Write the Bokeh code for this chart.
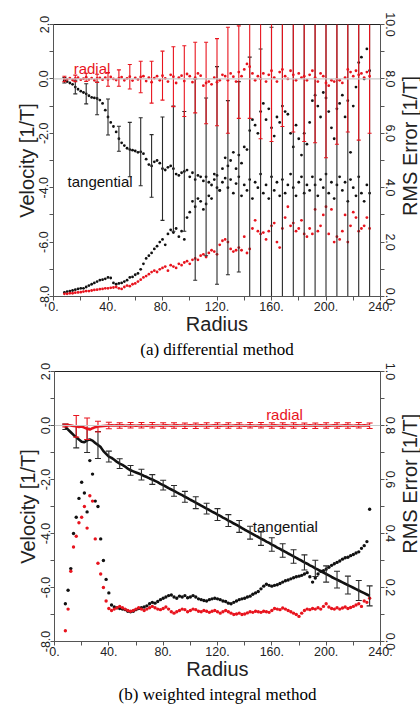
import math
from bokeh.plotting import figure
from bokeh.models import Range1d, LinearAxis, FixedTicker, Span, Label, Title
from bokeh.layouts import column, row
from bokeh.embed import file_html
from bokeh.resources import INLINE

# ---------------- data ----------------
radius = list(range(8, 233, 2))
bar_radius = list(range(8, 233, 8))

x_ticks = [0, 40, 80, 120, 160, 200, 240]
x_minor = [20, 60, 100, 140, 180, 220]
x_labels = ["0.", "40.", "80.", "120.", "160.", "200.", "240."]
v_ticks = [-8, -6, -4, -2, 0, 2]
v_minor = [-7, -5, -3, -1, 1]
v_labels = ["-8.0", "-6.0", "-4.0", "-2.0", "0.0", "2.0"]
rms_a_ticks = [0, 2, 4, 6, 8, 10]
rms_a_minor = [1, 3, 5, 7, 9]
rms_a_labels = ["0.0", "2.0", "4.0", "6.0", "8.0", "10.0"]
rms_b_ticks = [0, 0.2, 0.4, 0.6, 0.8, 1.0]
rms_b_minor = [0.1, 0.3, 0.5, 0.7, 0.9]
rms_b_labels = ["0.0", "0.2", "0.4", "0.6", "0.8", "1.0"]

# panel (a) differential method
a_radial_vel = [
    0.0, -0.02, 0.03, -0.04, 0.02, 0.05, -0.03, 0.01, 0.06, -0.02,
    0.03, -0.05, 0.02, 0.04, -0.03, 0.05, -0.02, 0.07, 0.0, -0.04,
    0.03, 0.06, -0.05, 0.02, 0.08, -0.06, 0.04, -0.02, 0.07, 0.1,
    -0.08, 0.05, -0.12, 0.03, 0.1, -0.05, 0.12, 0.02, -0.1, 0.15,
    0.08, -0.15, 0.05, 0.12, -0.08, 0.18, 0.1, -0.12, 0.05, 0.2,
    0.12, -0.25, -0.15, -0.1, -0.2, 0.05, -0.12, -0.05, 0.15, 0.1,
    -0.05, 0.2, 0.08, -0.1, 0.25, 0.1, 0.35, 0.55, 0.45, 0.2,
    -0.05, 0.1, 0.0, 0.2, -0.1, 0.15, 0.3, 0.05, -0.1, 0.25,
    0.35, 0.1, 0.0, 0.3, 0.15, -0.05, 0.2, 0.05, 0.1, -0.05,
    0.15, 0.3, 0.05, -0.1, 0.2, 0.1, -0.15, -0.25, -0.05, -0.1,
    0.0, -0.05, -0.15, 0.05, 0.35, 0.25, 0.1, 0.3, 0.15, 0.2,
    0.05, 0.25, 0.1]
a_radial_rms = [
    0.1, 0.1, 0.12, 0.12, 0.14, 0.15, 0.16, 0.18, 0.2, 0.2,
    0.22, 0.24, 0.25, 0.27, 0.28, 0.3, 0.3, 0.32, 0.33, 0.35,
    0.3, 0.28, 0.35, 0.4, 0.38, 0.45, 0.48, 0.55, 0.62, 0.7,
    0.75, 0.82, 0.9, 0.95, 0.9, 1.0, 1.05, 1.1, 0.95, 1.15,
    1.1, 1.05, 1.2, 1.15, 1.25, 1.3, 1.2, 1.35, 1.4, 1.35,
    1.5, 1.55, 1.45, 1.6, 1.7, 1.65, 1.55, 1.9, 2.05, 2.1,
    2.0, 1.75, 1.65, 1.7, 1.8, 1.7, 2.2, 1.6, 1.75, 2.5,
    2.8, 2.4, 2.3, 2.35, 2.1, 2.4, 2.6, 2.7, 2.0, 1.8,
    2.5, 2.9, 3.3, 2.6, 2.7, 2.4, 2.5, 2.8, 2.3, 2.2,
    2.5, 2.3, 3.2, 2.4, 2.6, 3.0, 3.3, 2.3, 3.2, 2.0,
    2.2, 2.1, 2.4, 3.0, 2.0, 2.6, 3.1, 2.9, 2.4, 2.5,
    2.6, 2.9, 2.5]
a_tangential_vel = [
    -0.05, -0.1, -0.15, -0.2, -0.3, -0.38, -0.45, -0.5, -0.55, -0.62,
    -0.68, -0.7, -0.72, -0.78, -0.9, -1.15, -1.4, -1.6, -1.75, -1.95,
    -2.2, -2.35, -2.45, -2.55, -2.6, -2.62, -2.65, -2.7, -2.68, -2.75,
    -2.95, -3.15, -3.2, -3.05, -3.0, -3.1, -3.3, -3.35, -3.25, -3.2,
    -3.3, -3.5, -3.55, -3.45, -3.4, -3.35, -3.6, -3.45, -3.7, -3.55,
    -3.6, -3.75, -3.6, -3.8, -3.9, -3.7, -3.55, -4.1, -3.8, -3.65,
    -4.0, -3.7, -4.2, -3.85, -3.6, -4.3, -3.9, -4.1, -3.7, -4.4,
    -3.8, -4.0, -3.5, -4.2, -3.9, -4.4, -3.6, -4.1, -3.8, -4.3,
    -3.7, -4.2, -3.9, -3.5, -4.0, -4.3, -3.8, -3.6, -4.2, -3.9,
    -4.1, -3.6, -3.9, -4.3, -3.7, -4.0, -3.5, -4.2, -3.8, -4.4,
    -3.9, -3.6, -4.1, -3.8, -4.5, -3.7, -4.0, -4.3, -3.6, -4.2,
    -4.5, -3.9, -4.2]
a_tangential_rms = [
    0.15, 0.18, 0.2, 0.22, 0.25, 0.28, 0.3, 0.3, 0.35, 0.4,
    0.45, 0.5, 0.55, 0.6, 0.62, 0.65, 0.7, 0.68, 0.5, 0.45,
    0.48, 0.5, 0.55, 0.6, 0.7, 0.72, 0.8, 0.85, 1.0, 1.2,
    1.4, 1.5, 1.6, 1.75, 1.85, 2.0, 2.1, 1.9, 2.3, 2.45,
    2.35, 2.5, 2.2, 2.4, 2.1, 2.9, 3.1, 3.5, 3.3, 3.6,
    3.5, 3.2, 3.4, 3.7, 3.6, 4.5, 4.0, 3.9, 4.7, 5.1,
    4.8, 5.0, 5.3, 4.7, 5.2, 4.9, 5.5, 5.4, 6.1, 6.5,
    6.3, 6.0, 6.8, 7.1, 6.5, 6.9, 6.2, 5.9, 6.6, 6.4,
    7.0, 6.8, 6.7, 6.0, 5.5, 6.3, 5.8, 5.2, 6.0, 5.6,
    6.4, 7.2, 7.4, 7.0, 6.6, 7.5, 7.3, 6.8, 6.2, 5.8,
    6.9, 7.1, 7.4, 6.6, 7.2, 5.3, 7.0, 7.7, 8.6, 8.8,
    8.0, 9.1, 8.3]
a_radial_err = [0.1, 0.12, 0.15, 0.15, 0.25, 0.3, 0.45, 0.58, 0.77, 0.9,
                1.1, 1.3, 1.3, 1.5, 1.6, 1.95, 1.7, 1.9, 2.2, 2.6,
                2.1, 2.1, 2.4, 2.4, 2.75, 2.4, 2.3, 2.4, 2.1]
a_tangential_err = [0.1, 0.25, 0.37, 0.6, 0.66, 0.46, 1.0, 1.25, 1.15, 1.9,
                    2.3, 2.2, 3.7, 2.9, 4.0, 3.2, 3.5, 4.5, 4.6, 5.5,
                    6.0, 6.5, 7.0, 7.0, 7.5, 7.5, 8.0, 8.0, 8.0]

# panel (b) weighted integral method
b_radial_vel = [
    0.0, 0.02, 0.0, -0.02, -0.03, -0.05, -0.04, -0.08, -0.12, -0.15,
    -0.1, -0.06, -0.04, -0.03, -0.02, -0.01, 0.0, 0.01, 0.0, 0.01,
    0.0, 0.01, -0.01, 0.0, 0.01, 0.0, -0.01, 0.0, 0.01, 0.0,
    -0.01, 0.0, 0.01, 0.0, 0.0, -0.01, 0.0, 0.01, 0.0, -0.01,
    0.0, 0.01, 0.0, 0.0, -0.01, 0.0, 0.01, 0.0, -0.01, 0.0,
    0.01, 0.0, 0.0, -0.01, 0.0, 0.01, 0.0, -0.01, 0.0, 0.01,
    0.0, -0.01, 0.0, 0.01, 0.0, 0.0, -0.01, 0.0, 0.01, 0.0,
    -0.01, 0.0, 0.01, 0.0, 0.0, -0.01, 0.0, 0.01, 0.0, -0.01,
    0.0, 0.01, 0.0, -0.01, 0.0, 0.01, 0.0, 0.0, -0.01, 0.0,
    0.01, 0.0, -0.01, 0.0, 0.01, 0.0, 0.0, -0.01, 0.0, 0.01,
    0.0, -0.01, 0.0, 0.01, 0.0, 0.0, -0.01, 0.0, 0.01, 0.0,
    0.01, 0.0, -0.01]
b_tangential_vel = [
    -0.05, -0.15, -0.25, -0.35, -0.43, -0.52, -0.6, -0.62, -0.55, -0.52,
    -0.56, -0.65, -0.72, -0.8, -0.95, -1.05, -1.15, -1.2, -1.27, -1.35,
    -1.41, -1.46, -1.52, -1.6, -1.66, -1.7, -1.74, -1.78, -1.82, -1.87,
    -1.91, -1.96, -2.0, -2.05, -2.1, -2.16, -2.21, -2.26, -2.32, -2.37,
    -2.42, -2.48, -2.53, -2.58, -2.64, -2.69, -2.75, -2.8, -2.86, -2.91,
    -2.97, -3.02, -3.08, -3.13, -3.19, -3.24, -3.3, -3.35, -3.41, -3.46,
    -3.52, -3.57, -3.63, -3.68, -3.74, -3.8, -3.86, -3.91, -3.97, -4.02,
    -4.08, -4.13, -4.19, -4.24, -4.3, -4.35, -4.41, -4.46, -4.52, -4.57,
    -4.63, -4.68, -4.74, -4.79, -4.85, -4.9, -4.96, -5.01, -5.07, -5.12,
    -5.18, -5.23, -5.29, -5.34, -5.4, -5.45, -5.5, -5.55, -5.61, -5.66,
    -5.71, -5.76, -5.81, -5.86, -5.91, -5.96, -6.01, -6.06, -6.11, -6.16,
    -6.21, -6.26, -6.31]
b_radial_rms = [
    0.04, 0.12, 0.26, 0.35, 0.39, 0.44, 0.46, 0.5, 0.42, 0.54,
    0.52, 0.38, 0.29, 0.25, 0.2, 0.15, 0.122, 0.115, 0.12, 0.125,
    0.13, 0.125, 0.12, 0.115, 0.112, 0.115, 0.12, 0.125, 0.12, 0.115,
    0.12, 0.125, 0.13, 0.125, 0.12, 0.118, 0.122, 0.128, 0.12, 0.11,
    0.105, 0.11, 0.115, 0.12, 0.118, 0.11, 0.115, 0.12, 0.118, 0.112,
    0.11, 0.115, 0.112, 0.108, 0.112, 0.115, 0.11, 0.105, 0.11, 0.115,
    0.11, 0.105, 0.1, 0.102, 0.105, 0.1, 0.102, 0.106, 0.11, 0.108,
    0.112, 0.11, 0.108, 0.112, 0.11, 0.108, 0.115, 0.122, 0.12, 0.118,
    0.124, 0.12, 0.115, 0.11, 0.105, 0.1, 0.093, 0.105, 0.115, 0.12,
    0.118, 0.122, 0.12, 0.125, 0.12, 0.13, 0.14, 0.128, 0.122, 0.12,
    0.125, 0.12, 0.124, 0.128, 0.122, 0.126, 0.13, 0.135, 0.14, 0.13,
    0.15, 0.145, 0.16]
b_tangential_rms = [
    0.14, 0.19, 0.27, 0.4, 0.46, 0.53, 0.59, 0.55, 0.48, 0.67,
    0.62, 0.52, 0.5, 0.38, 0.3, 0.23, 0.18, 0.135, 0.128, 0.125,
    0.122, 0.12, 0.118, 0.112, 0.11, 0.112, 0.118, 0.122, 0.125, 0.128,
    0.132, 0.14, 0.145, 0.142, 0.148, 0.155, 0.16, 0.165, 0.17, 0.172,
    0.165, 0.16, 0.168, 0.165, 0.17, 0.162, 0.165, 0.17, 0.165, 0.158,
    0.155, 0.152, 0.15, 0.155, 0.158, 0.16, 0.158, 0.155, 0.15, 0.148,
    0.142, 0.14, 0.145, 0.15, 0.155, 0.158, 0.16, 0.165, 0.168, 0.175,
    0.18, 0.185, 0.195, 0.205, 0.212, 0.208, 0.205, 0.208, 0.21, 0.215,
    0.22, 0.225, 0.228, 0.232, 0.236, 0.24, 0.242, 0.245, 0.25, 0.255,
    0.24, 0.22, 0.235, 0.25, 0.26, 0.262, 0.268, 0.275, 0.282, 0.288,
    0.293, 0.298, 0.305, 0.31, 0.312, 0.318, 0.322, 0.328, 0.332, 0.345,
    0.355, 0.37, 0.49]
b_radial_err = [0.05, 0.4, 0.4, 0.2, 0.12, 0.1, 0.1, 0.1, 0.1, 0.1,
                0.1, 0.1, 0.1, 0.1, 0.1, 0.1, 0.1, 0.1, 0.1, 0.1,
                0.1, 0.1, 0.1, 0.1, 0.1, 0.1, 0.1, 0.1, 0.1]
b_tangential_err = [0.1, 0.4, 0.45, 0.5, 0.2, 0.18, 0.18, 0.2, 0.18, 0.18,
                    0.2, 0.2, 0.22, 0.2, 0.22, 0.22, 0.22, 0.24, 0.25, 0.25,
                    0.25, 0.25, 0.28, 0.3, 0.3, 0.31, 0.33, 0.37, 0.37]

RED = "#e8141e"
BLACK = "#111111"
SANS = "Liberation Sans"
SERIF = "Liberation Serif"


def style_axis(ax, ticks, minor, labels):
    ax.ticker = FixedTicker(ticks=ticks, minor_ticks=minor)
    ax.major_label_overrides = {t: l for t, l in zip(ticks, labels)}
    ax.major_label_text_font = SANS
    ax.major_label_text_font_size = "12.5px"
    ax.major_label_text_color = "#222222"
    ax.major_label_standoff = 1
    ax.axis_line_color = "#555555"
    ax.major_tick_line_color = "#555555"
    ax.minor_tick_line_color = "#555555"
    ax.major_tick_in = 0
    ax.major_tick_out = 4
    ax.minor_tick_in = 0
    ax.minor_tick_out = 4
    ax.axis_label_text_font = SANS
    ax.axis_label_text_font_size = "20px"
    ax.axis_label_text_font_style = "normal"
    ax.axis_label_text_color = "#222222"
    ax.axis_label_standoff = -1


def bars(p, xs, centers, errs, color, cap):
    lo = [c - e for c, e in zip(centers, errs)]
    hi = [c + e for c, e in zip(centers, errs)]
    p.segment(x0=xs, y0=lo, x1=xs, y1=hi, line_color=color, line_width=1.1)
    p.scatter(x=xs + xs, y=lo + hi, marker="dash", size=cap,
              line_color=color, line_width=1.1)


def panel(fh, fw, top, bottom, left, rms_range, rms_ticks, rms_minor,
          rms_labels, caption, rad_v, tan_v, rad_rms, tan_rms, rad_err,
          tan_err, dense, radial_pos, tang_pos):
    p = figure(frame_width=fw, frame_height=fh, x_range=Range1d(0, 240),
               y_range=Range1d(-8, 2), output_backend="svg",
               toolbar_location=None, min_border_left=left,
               min_border_right=20, min_border_top=top,
               min_border_bottom=bottom)
    p.extra_y_ranges = {"rms": Range1d(*rms_range)}
    p.xgrid.visible = False
    p.ygrid.visible = False
    p.outline_line_color = "#222222"
    p.outline_line_width = 1
    p.background_fill_color = "white"

    style_axis(p.xaxis[0], x_ticks, x_minor, x_labels)
    p.xaxis[0].axis_label = "Radius"
    style_axis(p.yaxis[0], v_ticks, v_minor, v_labels)
    p.yaxis[0].axis_label = "Velocity [1/T]"
    p.yaxis[0].major_label_orientation = "vertical"
    right = LinearAxis(y_range_name="rms")
    style_axis(right, rms_ticks, rms_minor, rms_labels)
    right.major_label_orientation = "vertical"
    p.add_layout(right, "right")

    p.add_layout(Span(location=0, dimension="width", line_color="#c8c8c8",
                      line_width=1.2))

    dot = 3.4 if dense else 2.8
    p.scatter(radius, tan_rms, y_range_name="rms", size=dot, color=BLACK,
              line_color=None)
    p.scatter(radius, rad_rms, y_range_name="rms", size=dot, color=RED,
              line_color=None)
    centers_t = [tan_v[radius.index(b)] for b in bar_radius]
    centers_r = [rad_v[radius.index(b)] for b in bar_radius]
    if dense:
        p.line(radius, tan_v, line_color=BLACK, line_width=2.6)
    else:
        p.scatter(radius, tan_v, size=dot, color=BLACK, line_color=None)
    bars(p, bar_radius, centers_t, tan_err, "#2a2a2a", 6 if dense else 4)
    bars(p, bar_radius, centers_r, rad_err, RED, 6 if dense else 4)
    if dense:
        p.line(radius, rad_v, line_color=RED, line_width=2.6)
    else:
        p.scatter(radius, rad_v, size=dot, color=RED, line_color=None)

    p.add_layout(Label(x=radial_pos[0], y=radial_pos[1], text="radial",
                       text_font=SANS, text_font_size="15px", text_color=RED,
                       text_baseline="alphabetic"))
    p.add_layout(Label(x=tang_pos[0], y=tang_pos[1], text="tangential",
                       text_font=SANS, text_font_size="15px", text_color=BLACK,
                       text_baseline="alphabetic"))

    p.add_layout(Title(text=caption, align="center", text_font=SERIF,
                       text_font_size="17px", text_font_style="normal",
                       text_color="black", standoff=0, offset=0), "below")

    # narrow strip to the right carrying the right-hand axis title,
    # reading bottom to top as in the original
    total_h = top + fh + bottom
    strip_w = 420 - (left + fw + 20)
    s = figure(width=strip_w, height=total_h, x_range=Range1d(0, strip_w),
               y_range=Range1d(total_h, 0), output_backend="svg",
               toolbar_location=None, x_axis_location=None,
               y_axis_location=None, min_border=0)
    s.outline_line_color = None
    s.xgrid.visible = False
    s.ygrid.visible = False
    s.add_layout(Label(x=strip_w / 2 - 1, y=top + fh / 2,
                       text="RMS Error [1/T]", angle=math.pi / 2,
                       text_align="center", text_baseline="middle",
                       text_font=SANS, text_font_size="20px",
                       text_color="#222222"))
    return row(p, s, spacing=0)


pa = panel(272, 327, 24, 62, 53, (0, 10), rms_a_ticks, rms_a_minor,
           rms_a_labels, "(a) differential method", a_radial_vel,
           a_tangential_vel, a_radial_rms, a_tangential_rms, a_radial_err,
           a_tangential_err, False, (14.8, 0.38), (10.3, -3.77))
pb = panel(270, 326, 13, 73, 54, (0, 1), rms_b_ticks, rms_b_minor,
           rms_b_labels, "(b) weighted integral method", b_radial_vel,
           b_tangential_vel, b_radial_rms, b_tangential_rms, b_radial_err,
           b_tangential_err, True, (155.8, 0.41), (146, -3.74))

layout = column(pa, pb, spacing=0)
open("out.html", "w").write(file_html(layout, INLINE))
